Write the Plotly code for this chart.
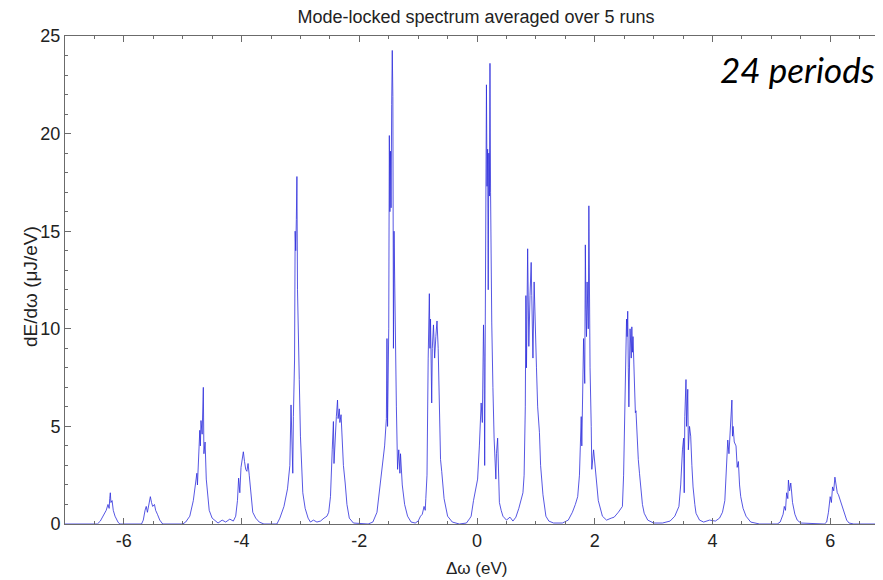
import plotly.graph_objects as go

title_text = "Mode-locked spectrum averaged over 5 runs"
x_label = "Δω (eV)"
y_label = "dE/dω (μJ/eV)"
note_text = "24 periods"
x_ticks = [-6, -4, -2, 0, 2, 4, 6]
y_ticks = [0, 5, 10, 15, 20, 25]

# spectrum vertices (eV, uJ/eV)
freq_ev = [
    -7.0, -6.6, -6.45, -6.40, -6.35, -6.30, -6.27, -6.25, -6.24, -6.23, -6.22, -6.20, -6.18, -6.15, -6.10, -6.07,
    -5.70, -5.67, -5.64, -5.62, -5.60, -5.58, -5.55, -5.53, -5.51, -5.48, -5.46, -5.43, -5.39, -5.34,
    -5.00, -4.95, -4.88, -4.82, -4.78, -4.76, -4.75, -4.73, -4.71, -4.70, -4.69, -4.67, -4.66, -4.65, -4.64, -4.62,
    -4.60, -4.57, -4.55, -4.50, -4.45, -4.40, -4.33, -4.27, -4.20, -4.14,
    -4.10, -4.07, -4.05, -4.03, -4.01, -3.99, -3.97, -3.95, -3.93, -3.91, -3.89, -3.87, -3.84, -3.81, -3.76, -3.70, -3.62,
    -3.40, -3.35, -3.28, -3.22, -3.18, -3.16, -3.15, -3.13, -3.12, -3.10, -3.09, -3.08, -3.07, -3.06, -3.05, -3.04,
    -3.02, -3.00, -2.98, -2.96, -2.92, -2.87, -2.83, -2.78, -2.72, -2.66, -2.60, -2.55,
    -2.52, -2.49, -2.46, -2.44, -2.43, -2.41, -2.39, -2.37, -2.36, -2.34, -2.33, -2.31, -2.29, -2.27, -2.24, -2.21, -2.17, -2.10,
    -1.85, -1.77, -1.70, -1.65, -1.61, -1.57, -1.54, -1.53, -1.52, -1.50, -1.49, -1.48, -1.47, -1.46, -1.45, -1.44,
    -1.43, -1.42, -1.41, -1.40, -1.39, -1.37, -1.35, -1.33, -1.31, -1.30, -1.27, -1.23, -1.18, -1.12, -1.05,
    -1.00, -0.96, -0.93, -0.90, -0.88, -0.87, -0.85, -0.83, -0.82, -0.81, -0.80, -0.79, -0.77, -0.76, -0.74, -0.72,
    -0.70, -0.68, -0.66, -0.65, -0.63, -0.62, -0.60, -0.56, -0.50, -0.42, -0.30,
    -0.18, -0.12, -0.10, -0.06, 0.01, 0.04, 0.07, 0.09, 0.11, 0.12, 0.13, 0.14, 0.15, 0.16, 0.17, 0.18, 0.19, 0.20,
    0.21, 0.22, 0.23, 0.24, 0.25, 0.27, 0.29, 0.32, 0.33, 0.35, 0.36, 0.38, 0.41, 0.44, 0.50, 0.56, 0.61, 0.66,
    0.71, 0.75, 0.78, 0.80, 0.82, 0.83, 0.84, 0.86, 0.87, 0.88, 0.90, 0.92, 0.93, 0.95, 0.97, 0.99, 1.01, 1.03,
    1.06, 1.08, 1.12, 1.17, 1.22, 1.30, 1.45,
    1.55, 1.62, 1.67, 1.71, 1.74, 1.77, 1.78, 1.79, 1.81, 1.83, 1.84, 1.85, 1.86, 1.87, 1.89, 1.90, 1.91, 1.92,
    1.94, 1.95, 1.98, 2.02, 2.06, 2.13, 2.20, 2.28, 2.33, 2.40,
    2.45, 2.47, 2.49, 2.51, 2.52, 2.54, 2.55, 2.56, 2.57, 2.58, 2.60, 2.62, 2.63, 2.64, 2.65, 2.67, 2.69, 2.70,
    2.72, 2.74, 2.76, 2.78, 2.81, 2.84, 2.90, 3.00, 3.15,
    3.28, 3.36, 3.43, 3.46, 3.49, 3.51, 3.52, 3.53, 3.55, 3.56, 3.58, 3.59, 3.61, 3.63, 3.65, 3.67, 3.70, 3.72,
    3.78, 3.85, 3.95, 4.05,
    4.12, 4.17, 4.21, 4.24, 4.26, 4.28, 4.30, 4.33, 4.34, 4.35, 4.37, 4.40, 4.42, 4.44, 4.46, 4.48, 4.52, 4.57,
    4.65, 4.80,
    5.10, 5.15, 5.20, 5.22, 5.24, 5.26, 5.28, 5.29, 5.31, 5.33, 5.34, 5.36, 5.40, 5.44, 5.50,
    5.90, 5.94, 5.97, 6.00, 6.02, 6.04, 6.06, 6.08, 6.10, 6.12, 6.14, 6.17, 6.20, 6.24, 6.28, 6.32, 6.40, 6.90,
]
dE_dw = [
    0, 0, 0, 0.15, 0.4, 0.7, 1.0, 0.8, 1.3, 1.6, 1.1, 1.2, 0.7, 0.4, 0.1, 0,
    0, 0.2, 0.7, 0.9, 0.6, 1.0, 1.4, 1.1, 0.9, 1.0, 0.7, 0.5, 0.2, 0,
    0, 0.1, 0.4, 1.2, 2.3, 2.6, 2.0, 3.5, 4.8, 4.0, 5.3, 4.6, 6.0, 7.0, 3.6, 4.2,
    2.3, 1.4, 0.7, 0.3, 0.15, 0.05, 0.2, 0.1, 0.25, 0.15,
    0.4, 1.2, 2.35, 1.6, 2.9, 3.3, 3.7, 3.2, 2.8, 2.7, 3.1, 2.5, 1.6, 0.6, 0.3, 0.1, 0,
    0, 0.3, 0.9, 1.8, 3.0, 6.1, 4.8, 2.6, 5.5, 8.4, 15.0, 14.0, 15.6, 17.8, 12.0, 9.5,
    7.4, 4.5, 3.0, 1.6, 0.8, 0.3, 0.1, 0.2, 0.1, 0.15, 0.3, 0.4,
    0.6, 1.4, 3.8, 5.25, 3.1, 4.6, 5.5, 6.35, 5.4, 5.9, 5.2, 5.6, 4.4, 3.0, 2.1, 1.0, 0.3, 0.05,
    0, 0.1, 0.6, 1.8, 2.8, 4.0, 5.4, 9.5, 5.0, 10.0, 19.9, 16.0, 19.1, 16.2, 21.5, 24.26,
    21.9, 9.0, 15.0, 12.2, 10.3, 6.0, 2.8, 3.8, 2.6, 3.6, 2.0, 1.0, 0.4, 0.1, 0.05,
    0.15, 0.4, 0.5, 0.9, 0.7, 1.3, 2.5, 8.5, 10.6, 11.8, 9.0, 10.5, 6.2, 9.0, 10.2, 8.5,
    9.6, 10.4, 9.0, 7.2, 5.0, 3.3, 2.7, 1.3, 0.4, 0.1, 0.0,
    0.05, 0.3, 0.4, 1.2, 2.3, 4.0, 6.2, 5.2, 10.2, 8.6, 3.0, 10.2, 20.0, 22.5, 17.3, 19.2, 12.0, 19.0,
    16.8, 23.6, 17.0, 13.1, 10.3, 7.0, 4.4, 2.3, 3.6, 4.4, 2.6, 1.1, 0.7, 0.4, 0.2, 0.35, 0.15, 0.35,
    0.8, 1.2, 1.6, 2.5, 6.0, 11.7, 8.0, 14.1, 12.0, 9.1, 11.7, 13.4, 11.7, 8.5, 12.4, 9.5, 8.0, 6.0,
    4.7, 3.0, 1.5, 0.4, 0.15, 0.05, 0.05,
    0.2, 0.6, 1.0, 1.4, 2.5, 5.5, 4.0, 6.9, 9.5, 7.2, 14.3, 11.0, 9.6, 12.4, 10.0, 16.3, 12.0, 8.0,
    5.0, 2.8, 3.8, 2.3, 1.2, 0.4, 0.2, 0.3, 0.35, 0.6,
    0.8, 0.9, 2.5, 5.5, 6.9, 10.5, 9.6, 10.9, 8.0, 6.0, 10.0, 8.5, 10.1, 8.8, 9.6, 7.5, 5.7, 5.8,
    4.0, 3.3, 2.6, 1.9, 1.0, 0.55, 0.2, 0.05, 0.05,
    0.15, 0.4, 0.9, 2.0, 3.8, 4.4, 1.6, 5.5, 7.4, 5.0, 6.9, 3.8, 5.0, 4.5, 3.0, 1.9, 1.0, 0.55,
    0.2, 0.1, 0.2, 0.15,
    0.3, 0.6, 1.2, 3.0, 4.3, 3.6, 5.0, 6.35, 4.5, 5.0, 4.2, 4.0, 2.9, 3.2, 2.0, 1.4, 0.8, 0.4,
    0.1, 0,
    0, 0.1, 0.5, 0.9, 0.7, 1.6, 1.3, 2.25, 1.7, 2.1, 1.8, 1.1, 0.5, 0.2, 0.05,
    0, 0.1, 0.6, 1.4, 1.1, 1.9, 1.7, 2.4, 1.9, 1.6, 1.5, 1.2, 0.9, 0.55, 0.2, 0.05, 0, 0,
]

# the page places the figure 8 px in from the top-left corner
W, H = 875, 572
L, R, T, B = 57, 874, 28, 516
PW, PH = R - L, B - T

fig = go.Figure()
fig.add_trace(go.Scatter(
    x=freq_ev, y=dE_dw, mode="lines",
    line=dict(color="rgba(45,45,220,0.8)", width=1),
    hoverinfo="skip", showlegend=False,
))

sans = "Liberation Sans Narrow, Arial Narrow, Liberation Sans, Arial"
axis_font = dict(family=sans, size=18, color="#222")
common = dict(
    showgrid=False, zeroline=False, showline=True, linecolor="#6b6b6b", linewidth=1,
    mirror="ticks", ticks="inside", ticklen=6, tickcolor="#6b6b6b", tickwidth=1,
    tickfont=axis_font,
)

fig.update_layout(
    width=W, height=H,
    margin=dict(l=L, r=W - R, t=T, b=H - B, autoexpand=False),
    paper_bgcolor="white", plot_bgcolor="white",
    title=dict(text=title_text, x=(L + 411) / W, xanchor="center", y=1 - 9 / H, yanchor="middle",
               font=dict(family=sans, size=18, color="#222")),
    xaxis=dict(range=[-7, 6.88], tickvals=x_ticks, ticktext=[str(v) for v in x_ticks],
               minor=dict(dtick=0.5, tick0=0, ticks="inside", ticklen=3, tickcolor="#6b6b6b"),
               ticklabelstandoff=0,
               **common),
    yaxis=dict(range=[0, 25], tickvals=y_ticks, ticktext=[str(v) for v in y_ticks],
               minor=dict(dtick=1, tick0=0, ticks="inside", ticklen=3, tickcolor="#6b6b6b"),
               **common),
    annotations=[
        dict(text=note_text, xref="paper", yref="paper", x=(869 - L) / PW, y=(B - 61) / PH,
             xanchor="right", yanchor="middle", showarrow=False,
             font=dict(family="Lato, Open Sans, sans-serif", size=35, color="black", style="italic")),
        dict(text=x_label, xref="paper", yref="paper", x=(468 - L) / PW, y=0, yshift=-44,
             xanchor="center", yanchor="middle", showarrow=False,
             font=dict(family=sans, size=17, color="#222")),
        dict(text=y_label, xref="paper", yref="paper", x=0, xshift=-(L - 22), y=(B - 279) / PH,
             xanchor="center", yanchor="middle", textangle=-90, showarrow=False,
             font=dict(family=sans, size=19, color="#222")),
    ],
)

fig.write_html("out.html")
